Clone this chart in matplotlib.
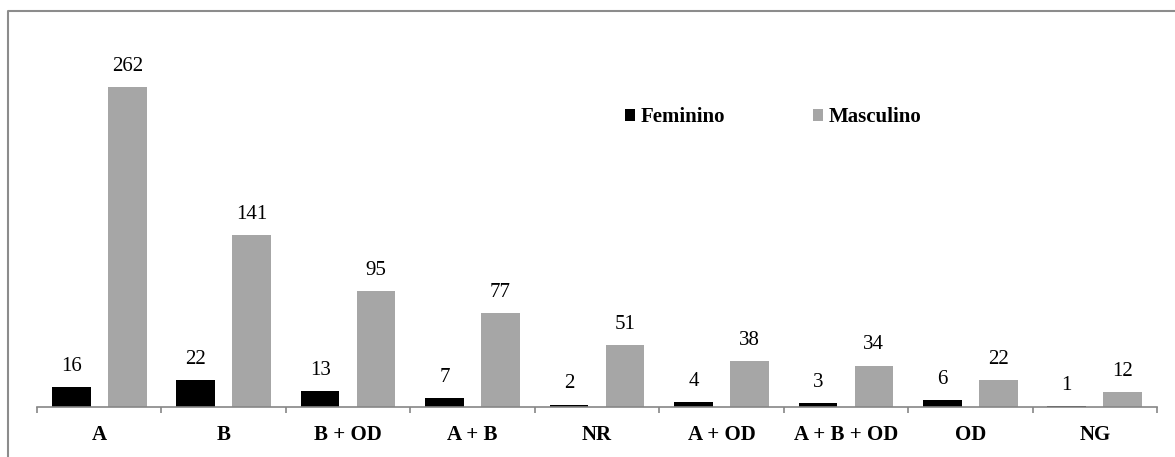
import numpy as np
import matplotlib.pyplot as plt
from matplotlib.lines import Line2D

plt.rcParams.update({
    "font.family": "serif",
    "font.serif": ["Liberation Serif", "DejaVu Serif"],
})

categories = ["A", "B", "B + OD", "A + B", "NR", "A + OD", "A + B + OD", "OD", "NG"]
feminino = [16, 22, 13, 7, 2, 4, 3, 6, 1]
masculino = [262, 141, 95, 77, 51, 38, 34, 22, 12]

W, H = 1175, 457
fig = plt.figure(figsize=(W / 100, H / 100), dpi=100)
ax = fig.add_axes([37 / W, 1 - 407 / H, (1157 - 37) / W, (407 - 41) / H])

x = np.arange(len(categories))
off, bw = 0.225, 0.31
b1 = ax.bar(x - off, feminino, bw, color="black", label="Feminino")
b2 = ax.bar(x + off, masculino, bw, color="#a6a6a6", label="Masculino")

for bars, vals in ((b1, feminino), (b2, masculino)):
    for rect, v in zip(bars, vals):
        ax.annotate(str(v), (rect.get_x() + rect.get_width() / 2, v),
                    xytext=(0, 8), textcoords="offset points",
                    ha="center", va="bottom", fontsize=15)

ax.set_xlim(-0.5, len(categories) - 0.5)
ax.set_ylim(0, 300)
ax.set_yticks([])
for s in ("top", "right", "left"):
    ax.spines[s].set_visible(False)
ax.spines["bottom"].set_color("#868686")
ax.spines["bottom"].set_linewidth(1.2)

# tick marks between categories, labels centred under each group
ax.set_xticks(np.arange(len(categories) + 1) - 0.5)
ax.set_xticklabels([])
ax.tick_params(axis="x", which="major", direction="out", length=4,
               width=1.2, color="#868686")
ax.set_xticks(x, minor=True)
ax.set_xticklabels(categories, minor=True, fontsize=15, fontweight="bold")
ax.tick_params(axis="x", which="minor", length=0, pad=13)

fig.legend(handles=[b1, b2], loc="center left",
           bbox_to_anchor=(625 / W, 1 - 117 / H), ncol=2, frameon=False,
           borderpad=0, borderaxespad=0, handlelength=0.5, handleheight=0.5,
           handletextpad=0.25, columnspacing=4.2,
           prop={"size": 15, "weight": "bold"})

# outer chart border (only left and top edges are inside the crop)
fig.add_artist(Line2D([8 / W, 8 / W, 1.01], [-0.01, 1 - 11 / H, 1 - 11 / H],
                      transform=fig.transFigure, color="#8c8c8c", lw=1.5))

fig.savefig("out.png", dpi=100)
